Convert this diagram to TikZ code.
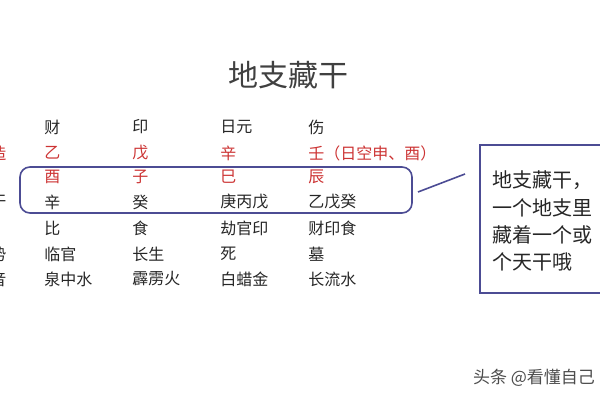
\documentclass[tikz,border=0pt]{standalone}
\usepackage{fontspec}
\newfontfamily\cjk{Noto Sans CJK SC}
\begin{document}
\begin{tikzpicture}[x=0.5pt,y=-0.5pt,
  t/.style={font=\cjk\fontsize{8}{9}\selectfont,anchor=west,inner sep=0pt,text=black!85},
  r/.style={t,text=red!75!black!80},
  bx/.style={draw=black!60!blue!70,line width=0.8pt}]
\useasboundingbox (0,0) rectangle (600,400);
\clip (0,0) rectangle (600,400);
\node[font=\cjk\fontsize{15}{18}\selectfont,text=black!75] (title) at (288,75) {地支藏干};
\node[r] (l2) at (-10,153) {造};
\node[t] (l4) at (-10,202) {干};
\node[t] (l6) at (-10,254) {势};
\node[t] (l7) at (-10,279) {音};
\foreach \x/\a/\b/\c/\d/\e/\f/\g [count=\i] in
 {44/财/乙/酉/辛/比/临官/泉中水, 132/印/戊/子/癸/食/长生/霹雳火,
  220/日元/辛/巳/庚丙戊/劫官印/死/白蜡金, 308/伤/壬（日空申、酉）/辰/乙戊癸/财印食/墓/长流水}{
  \node[t] (a\i) at (\x,127) {\a};
  \node[r] (b\i) at (\x,153) {\b};
  \node[r] (c\i) at (\x,177) {\c};
  \node[t] (d\i) at (\x,202) {\d};
  \node[t] (e\i) at (\x,228) {\e};
  \node[t] (f\i) at (\x,254) {\f};
  \node[t] (g\i) at (\x,279) {\g};
}
\draw[bx,rounded corners=5pt] (20,167) rectangle (412,213);
\draw[bx] (480,145) rectangle (612,293);
\foreach \s/\y in {地支藏干，/180,一个地支里/208,藏着一个或/235,个天干哦/262}
  \node[t,font=\cjk\fontsize{10}{12}\selectfont] at (492,\y) {\s};
\coordinate (c1) at (418,192);
\coordinate (c2) at (465,174);
\draw[black!60!blue!70,line width=0.8pt] (c1) -- (c2);
\node[font=\cjk\fontsize{8.5}{10}\selectfont,anchor=west,text=black!70] (wm) at (466,378) {头条 @看懂自己};
\end{tikzpicture}
\end{document}
